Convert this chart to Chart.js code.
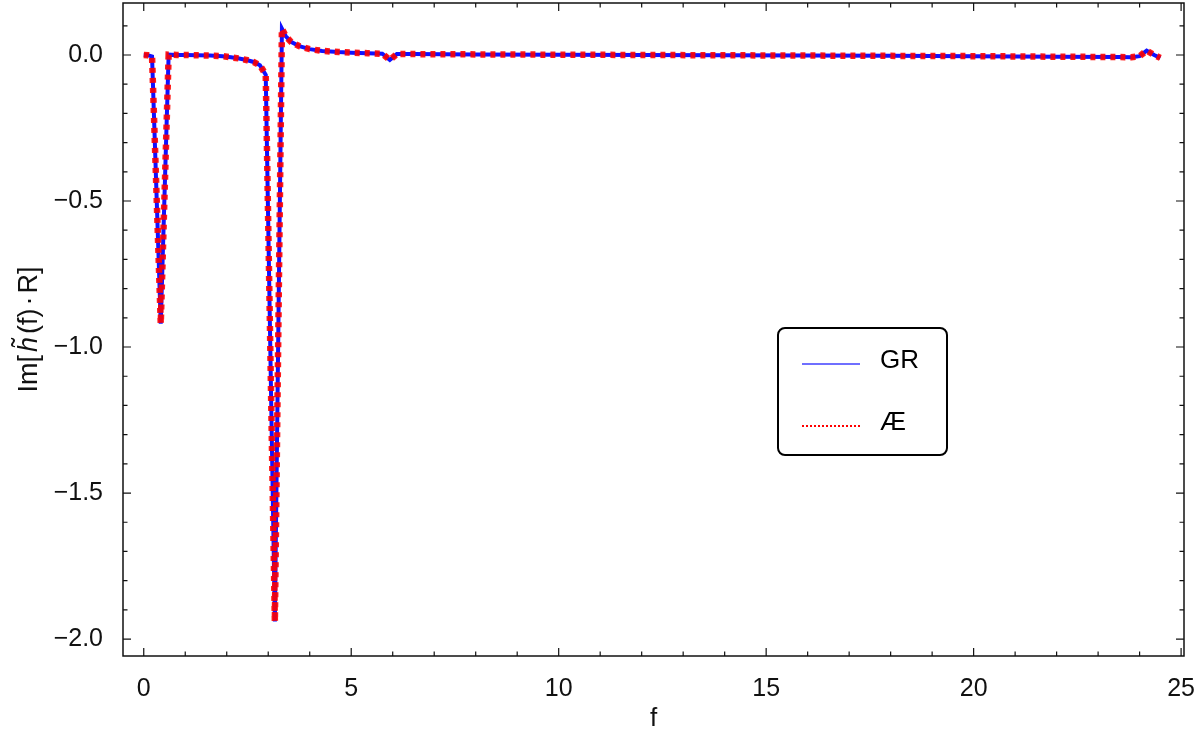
<!DOCTYPE html>
<html>
<head>
<meta charset="utf-8">
<script src="https://cdn.jsdelivr.net/npm/chart.js@4"></script>
<style>
  body { margin: 0; background: #fff; }
  #wrap { width: 1200px; height: 746px; }
</style>
</head>
<body>
<div id="wrap"><canvas id="chart" width="1200" height="746"></canvas></div>
<script>
// frequency samples and Im[h(f)R]
const fValues = [0, 0.1, 0.2, 0.41, 0.6, 0.8, 1.0, 1.3, 1.6, 1.9, 2.1, 2.3, 2.5, 2.65, 2.8, 2.94,
    3.16, 3.33, 3.42, 3.55, 3.75, 4.0, 4.3, 4.7, 5.0, 5.4, 5.75, 5.93, 6.1, 6.5, 8, 10, 12, 14,
    16, 18, 20, 22, 23.5, 23.8, 24.0, 24.17, 24.35, 24.5];
const grValues = [0.0, -0.001, -0.005, -0.92, 0.001, 0.0, 0.0, -0.001, -0.002, -0.004, -0.008, -0.012, -0.018, -0.024, -0.035, -0.068,
    -1.94, 0.09, 0.065, 0.045, 0.03, 0.02, 0.014, 0.01, 0.008, 0.006, 0.004, -0.017, 0.003, 0.003, 0.002, 0.001, 0.0, -0.001,
    -0.002, -0.003, -0.004, -0.006, -0.007, -0.008, -0.004, 0.015, 0.0, -0.01];
const aeValues = [0.0, -0.001, -0.005, -0.92, 0.001, 0.0, 0.0, -0.001, -0.002, -0.004, -0.008, -0.012, -0.018, -0.024, -0.035, -0.068,
    -1.94, 0.09, 0.065, 0.045, 0.03, 0.02, 0.014, 0.01, 0.008, 0.006, 0.004, -0.017, 0.003, 0.003, 0.002, 0.001, 0.0, -0.001,
    -0.002, -0.003, -0.004, -0.006, -0.007, -0.008, -0.004, 0.015, 0.0, -0.01];

const xTicks = [0, 5, 10, 15, 20, 25];
const yTicks = [0, -0.5, -1.0, -1.5, -2.0];
const seriesLabels = ['GR', 'Æ'];

const FONT = '"Liberation Sans", Arial, sans-serif';

function toPoints(xs, ys) {
    return xs.map((x, i) => ({ x: x, y: ys[i] }));
}

// y title with an italic h and a tilde over it
function drawYTitle(chart) {
    const ctx = chart.ctx;
    const a = chart.chartArea;
    const size = 27;
    const parts = [
        { t: 'Im[', it: false, gap: 0 },
        { t: 'h', it: true, gap: 3, tilde: true },
        { t: '(f)', it: false, gap: 3 },
        { t: '\u00b7', it: false, gap: 3 },
        { t: 'R]', it: false, gap: 3 }
    ];
    ctx.save();
    ctx.translate(27, (a.top + a.bottom) / 2);
    ctx.rotate(-Math.PI / 2);
    ctx.fillStyle = '#111';
    ctx.textBaseline = 'alphabetic';
    let total = 0;
    parts.forEach(p => {
        ctx.font = (p.it ? 'italic ' : '') + size + 'px ' + FONT;
        p.w = ctx.measureText(p.t).width;
        total += p.w + p.gap;
    });
    let x = -total / 2;
    const base = size * 0.36;
    parts.forEach(p => {
        x += p.gap;
        ctx.font = (p.it ? 'italic ' : '') + size + 'px ' + FONT;
        ctx.fillText(p.t, x, base);
        if (p.tilde) {
            ctx.font = size + 'px ' + FONT;
            ctx.textAlign = 'center';
            ctx.fillText('\u02dc', x + p.w / 2 + 2, base - size * 0.2);
            ctx.textAlign = 'left';
        }
        x += p.w;
    });
    ctx.restore();
}

// frame with inward ticks on all four sides, like Mathematica
const framePlugin = {
    id: 'frame',
    afterDatasetsDraw(chart) {
        const ctx = chart.ctx;
        const a = chart.chartArea;
        const xs = chart.scales.x, ys = chart.scales.y;
        ctx.save();
        ctx.strokeStyle = '#111';
        ctx.lineWidth = 1.5;
        ctx.strokeRect(a.left, a.top, a.right - a.left, a.bottom - a.top);
        ctx.lineWidth = 1.2;
        ctx.beginPath();
        for (let v = 0; v <= 25; v += 1) {
            const px = xs.getPixelForValue(v);
            const len = v % 5 === 0 ? 8 : 4.5;
            ctx.moveTo(px, a.bottom); ctx.lineTo(px, a.bottom - len);
            ctx.moveTo(px, a.top); ctx.lineTo(px, a.top + len);
        }
        for (let k = -20; k <= 1; k++) {
            const v = k / 10;
            const py = ys.getPixelForValue(v);
            if (py < a.top || py > a.bottom) continue;
            const len = k % 5 === 0 ? 8 : 4.5;
            ctx.moveTo(a.left, py); ctx.lineTo(a.left + len, py);
            ctx.moveTo(a.right, py); ctx.lineTo(a.right - len, py);
        }
        ctx.stroke();
        ctx.restore();
    },
    afterDraw(chart) {
        drawYTitle(chart);
        // legend box inside the plot
        const ctx = chart.ctx;
        const bx = 778, by = 328, bw = 169, bh = 127;
        ctx.save();
        ctx.fillStyle = '#fff';
        ctx.strokeStyle = '#000';
        ctx.lineWidth = 2;
        ctx.beginPath();
        ctx.roundRect(bx, by, bw, bh, 7);
        ctx.fill();
        ctx.stroke();

        const ds = chart.data.datasets;
        const rows = [364, 426];
        ctx.font = '26px ' + FONT;
        ctx.textBaseline = 'middle';
        ctx.fillStyle = '#000';
        ds.forEach((d, i) => {
            ctx.beginPath();
            ctx.strokeStyle = d.legendColor;
            ctx.lineWidth = 2;
            ctx.setLineDash(d.legendDash);
            ctx.moveTo(802, rows[i]);
            ctx.lineTo(860, rows[i]);
            ctx.stroke();
            ctx.setLineDash([]);
            ctx.fillText(d.label, 880, rows[i] - 3);
        });
        ctx.restore();
    }
};

new Chart(document.getElementById('chart'), {
    type: 'line',
    data: {
        datasets: [{
            label: seriesLabels[0],
            data: toPoints(fValues, grValues),
            borderColor: '#1010ff',
            borderWidth: 4,
            pointRadius: 0,
            tension: 0,
            order: 2,
            legendColor: '#6f6fff',
            legendDash: []
        }, {
            label: seriesLabels[1],
            data: toPoints(fValues, aeValues),
            borderColor: 'rgba(255, 0, 0, 0.9)',
            borderWidth: 6.5,
            borderDash: [5, 5],
            borderCapStyle: 'butt',
            pointRadius: 0,
            tension: 0,
            order: 1,
            legendColor: '#ff0000',
            legendDash: [2, 2]
        }]
    },
    options: {
        responsive: false,
        animation: false,
        layout: { padding: { left: 0, right: 16, top: 3, bottom: 0 } },
        plugins: {
            legend: { display: false },
            tooltip: { enabled: false }
        },
        scales: {
            x: {
                type: 'linear',
                min: -0.5,
                max: 25.07,
                grid: { display: false },
                border: { display: false },
                afterBuildTicks: s => { s.ticks = xTicks.map(v => ({ value: v })); },
                afterFit: s => { s.height = 90; s.paddingLeft = 0; s.paddingRight = 0; },
                ticks: {
                    maxRotation: 0,
                    padding: 10,
                    color: '#111',
                    font: { family: FONT, size: 25 },
                    callback: v => String(v)
                },
                title: {
                    display: true,
                    text: 'f',
                    color: '#111',
                    font: { family: FONT, size: 26 },
                    padding: { top: 0, bottom: 12 }
                }
            },
            y: {
                type: 'linear',
                min: -2.058,
                max: 0.178,
                grid: { display: false },
                border: { display: false },
                afterBuildTicks: s => { s.ticks = yTicks.map(v => ({ value: v })); },
                afterFit: s => { s.width = 123; s.paddingTop = 0; s.paddingBottom = 0; },
                ticks: {
                    padding: 12,
                    color: '#111',
                    font: { family: FONT, size: 25 },
                    callback: v => (v < 0 ? '\u2212' : '') + Math.abs(v).toFixed(1)
                },
                title: { display: false }
            }
        }
    },
    plugins: [framePlugin]
});
</script>
</body>
</html>
